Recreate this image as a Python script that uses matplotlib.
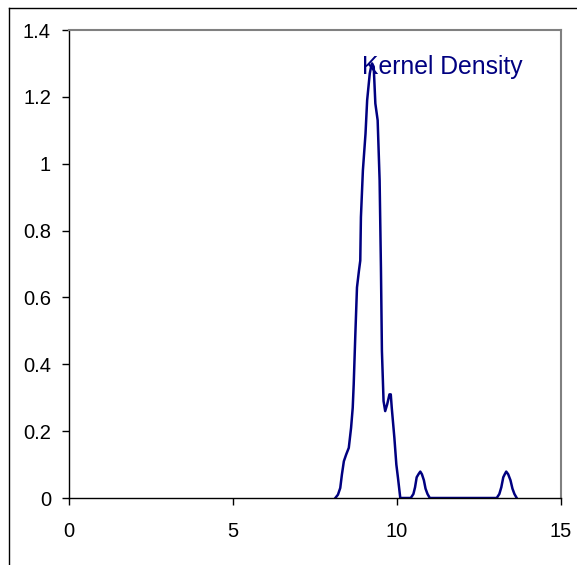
import matplotlib.pyplot as plt
from matplotlib.lines import Line2D

plt.rcParams['font.family'] = ['Liberation Sans', 'DejaVu Sans']

# main peak
peak_x = [8.12, 8.20, 8.27, 8.32, 8.38, 8.45, 8.53, 8.60, 8.65, 8.68, 8.73, 8.78,
          8.84, 8.88, 8.90, 8.96, 9.04, 9.09, 9.17, 9.21, 9.24, 9.29, 9.34, 9.41,
          9.47, 9.51, 9.54, 9.59, 9.64, 9.70, 9.77, 9.81, 9.84, 9.92, 9.98, 10.03, 10.10]
peak_y = [0.0, 0.01, 0.03, 0.07, 0.11, 0.13, 0.15, 0.21, 0.27, 0.34, 0.49, 0.63,
          0.68, 0.71, 0.84, 0.98, 1.09, 1.19, 1.27, 1.29, 1.30, 1.29, 1.18, 1.13,
          0.95, 0.69, 0.44, 0.29, 0.26, 0.28, 0.31, 0.31, 0.27, 0.18, 0.10, 0.06, 0.0]

# zero stretch + small bumps
tail_x = [10.42, 10.50, 10.55, 10.60, 10.66, 10.71, 10.76, 10.82, 10.87, 10.93, 11.00,
          13.04, 13.12, 13.18, 13.24, 13.29, 13.33, 13.39, 13.46, 13.52, 13.58, 13.65]
tail_y = [0.0, 0.012, 0.032, 0.062, 0.072, 0.079, 0.071, 0.053, 0.028, 0.012, 0.0,
          0.0, 0.012, 0.032, 0.062, 0.072, 0.079, 0.071, 0.053, 0.028, 0.012, 0.0]

xs = peak_x + tail_x
ys = peak_y + tail_y

x_ticks = [0, 5, 10, 15]
y_ticks = [0, 0.2, 0.4, 0.6, 0.8, 1, 1.2, 1.4]
y_labels = ['0', '0.2', '0.4', '0.6', '0.8', '1', '1.2', '1.4']

fig = plt.figure(figsize=(5.77, 5.65), dpi=100)
ax = fig.add_axes([69/577, 1 - 498/565, (561 - 69)/577, (498 - 30)/565])

ax.plot(xs, ys, color='#000080', lw=1.8)
ax.text(8.93, 1.29, 'Kernel Density', color='#000080', fontsize=17.8,
        ha='left', va='center')

ax.set_xlim(0, 15)
ax.set_ylim(0, 1.4)
ax.set_xticks(x_ticks)
ax.set_yticks(y_ticks)
ax.set_yticklabels(y_labels)
ax.tick_params(direction='out', length=5, width=1, labelsize=14.5, color='black')
ax.tick_params(axis='x', pad=12)
ax.tick_params(axis='y', pad=8)

for s in ['top', 'right']:
    ax.spines[s].set_color('#808080')
    ax.spines[s].set_linewidth(1.5)
for s in ['left', 'bottom']:
    ax.spines[s].set_color('black')
    ax.spines[s].set_linewidth(1)

# outer chart frame (cropped at right and bottom)
fy = 1 - 8/565
fx = 9/577
fig.add_artist(Line2D([fx, 1], [fy, fy], color='black', lw=1, transform=fig.transFigure))
fig.add_artist(Line2D([fx, fx], [0, fy], color='black', lw=1, transform=fig.transFigure))

fig.savefig('out.png', dpi=100)
